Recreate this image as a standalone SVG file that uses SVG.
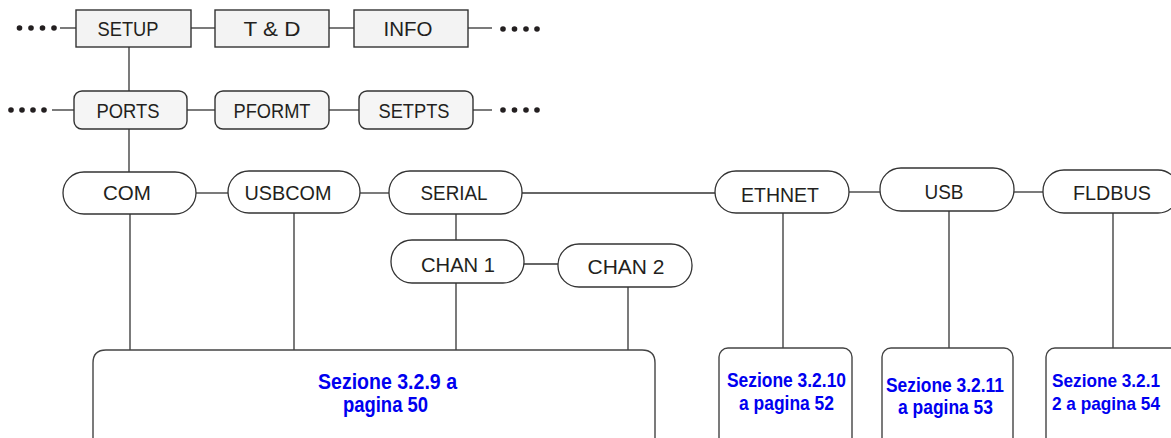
<svg xmlns="http://www.w3.org/2000/svg" width="1171" height="438" viewBox="0 0 1171 438">
<defs>
<style>
.bg{fill:#ffffff}
.sq{fill:#f3f3f3;stroke:#333333;stroke-width:1.4}
.rr{fill:#f5f5f5;stroke:#333333;stroke-width:1.4}
.pill{fill:#ffffff;stroke:#333333;stroke-width:1.3}
.ref{fill:#ffffff;stroke:#444444;stroke-width:1.4}
.ln{stroke:#333333;stroke-width:1.3;fill:none}
.dot{fill:#231f20}
.lbl{font-family:"Liberation Sans",Arial,sans-serif;font-size:21px;fill:#231f20;text-anchor:middle}
.blue{font-family:"Liberation Sans",Arial,sans-serif;font-weight:bold;fill:#0000f0;text-anchor:middle}
</style>
</defs>
<rect class="bg" x="0" y="0" width="1171" height="438"/>

<g id="connectors">
  <line class="ln" x1="60" y1="28" x2="76" y2="28"/>
  <line class="ln" x1="191" y1="28" x2="215" y2="28"/>
  <line class="ln" x1="329" y1="28" x2="354" y2="28"/>
  <line class="ln" x1="468" y1="28" x2="492" y2="28"/>
  <line class="ln" x1="129" y1="47" x2="129" y2="91"/>
  <line class="ln" x1="52" y1="110" x2="74" y2="110"/>
  <line class="ln" x1="187" y1="110" x2="215" y2="110"/>
  <line class="ln" x1="329" y1="110" x2="359" y2="110"/>
  <line class="ln" x1="473" y1="110" x2="492" y2="110"/>
  <line class="ln" x1="129" y1="129" x2="129" y2="172"/>
  <line class="ln" x1="196" y1="193" x2="228" y2="193"/>
  <line class="ln" x1="360" y1="193" x2="389" y2="193"/>
  <line class="ln" x1="521" y1="193" x2="715" y2="193"/>
  <line class="ln" x1="849" y1="192" x2="880" y2="192"/>
  <line class="ln" x1="1014" y1="192" x2="1043" y2="192"/>
  <line class="ln" x1="456" y1="214" x2="456" y2="240"/>
  <line class="ln" x1="524" y1="264" x2="558" y2="264"/>
  <line class="ln" x1="130" y1="214" x2="130" y2="350"/>
  <line class="ln" x1="294" y1="213" x2="294" y2="350"/>
  <line class="ln" x1="456" y1="283" x2="456" y2="350"/>
  <line class="ln" x1="628" y1="287" x2="628" y2="350"/>
  <line class="ln" x1="783" y1="213" x2="783" y2="348"/>
  <line class="ln" x1="949" y1="211" x2="949" y2="348"/>
  <line class="ln" x1="1113" y1="213" x2="1113" y2="348"/>
  <circle class="dot" cx="19.5" cy="28" r="2.8"/><circle class="dot" cx="31" cy="28" r="2.8"/><circle class="dot" cx="42.5" cy="28" r="2.8"/><circle class="dot" cx="54" cy="28" r="2.8"/>
  <circle class="dot" cx="503" cy="29" r="2.8"/><circle class="dot" cx="514.5" cy="29" r="2.8"/><circle class="dot" cx="526" cy="29" r="2.8"/><circle class="dot" cx="537" cy="29" r="2.8"/>
  <circle class="dot" cx="11" cy="110" r="2.8"/><circle class="dot" cx="22" cy="110" r="2.8"/><circle class="dot" cx="33" cy="110" r="2.8"/><circle class="dot" cx="44" cy="110" r="2.8"/>
  <circle class="dot" cx="503" cy="110" r="2.8"/><circle class="dot" cx="514.5" cy="110" r="2.8"/><circle class="dot" cx="526" cy="110" r="2.8"/><circle class="dot" cx="537" cy="110" r="2.8"/>
</g>

<g id="n-setup"><rect class="sq" x="76" y="10" width="115" height="37"/><text class="lbl" x="128" y="36" textLength="61" lengthAdjust="spacingAndGlyphs">SETUP</text></g>
<g id="n-td"><rect class="sq" x="215" y="10" width="114" height="37"/><text class="lbl" x="272" y="36" textLength="57" lengthAdjust="spacingAndGlyphs">T &amp; D</text></g>
<g id="n-info"><rect class="sq" x="354" y="10" width="114" height="37"/><text class="lbl" x="408" y="36" textLength="49" lengthAdjust="spacingAndGlyphs">INFO</text></g>

<g id="n-ports"><rect class="rr" x="74" y="91" width="113" height="38" rx="8"/><text class="lbl" x="128" y="118" textLength="63" lengthAdjust="spacingAndGlyphs">PORTS</text></g>
<g id="n-pformt"><rect class="rr" x="215" y="91" width="114" height="38" rx="8"/><text class="lbl" x="272" y="118" textLength="77" lengthAdjust="spacingAndGlyphs">PFORMT</text></g>
<g id="n-setpts"><rect class="rr" x="359" y="91" width="114" height="38" rx="8"/><text class="lbl" x="414" y="118" textLength="71" lengthAdjust="spacingAndGlyphs">SETPTS</text></g>

<g id="n-com"><rect class="pill" x="63" y="172" width="133" height="42" rx="21" ry="21"/><text class="lbl" x="127" y="200" textLength="48" lengthAdjust="spacingAndGlyphs">COM</text></g>
<g id="n-usbcom"><rect class="pill" x="228" y="171" width="132" height="42" rx="21" ry="21"/><text class="lbl" x="288" y="199.5" textLength="87" lengthAdjust="spacingAndGlyphs">USBCOM</text></g>
<g id="n-serial"><rect class="pill" x="389" y="171" width="133" height="43" rx="21" ry="21"/><text class="lbl" x="454" y="199.5" textLength="67" lengthAdjust="spacingAndGlyphs">SERIAL</text></g>
<g id="n-ethnet"><rect class="pill" x="715" y="171" width="134" height="42" rx="21" ry="21"/><text class="lbl" x="780" y="201.5" textLength="78" lengthAdjust="spacingAndGlyphs">ETHNET</text></g>
<g id="n-usb"><rect class="pill" x="880" y="168" width="134" height="43" rx="21" ry="21"/><text class="lbl" x="944" y="198.5" textLength="39" lengthAdjust="spacingAndGlyphs">USB</text></g>
<g id="n-fldbus"><rect class="pill" x="1043" y="170" width="136" height="43" rx="21" ry="21"/><text class="lbl" x="1112" y="199.5" textLength="78" lengthAdjust="spacingAndGlyphs">FLDBUS</text></g>
<g id="n-chan1"><rect class="pill" x="391" y="240" width="133" height="43" rx="21" ry="21"/><text class="lbl" x="458" y="271.5" textLength="74" lengthAdjust="spacingAndGlyphs">CHAN 1</text></g>
<g id="n-chan2"><rect class="pill" x="558" y="244" width="134" height="43" rx="21" ry="21"/><text class="lbl" x="626" y="273.5" textLength="77" lengthAdjust="spacingAndGlyphs">CHAN 2</text></g>

<g id="r-329"><path class="ref" d="M93,448 V363 Q93,350 106,350 H642 Q655,350 655,363 V448"/>
<text class="blue" font-size="21.5" x="387.5" y="389" textLength="139" lengthAdjust="spacingAndGlyphs">Sezione 3.2.9 a</text>
<text class="blue" font-size="21.5" x="385.5" y="412" textLength="85" lengthAdjust="spacingAndGlyphs">pagina 50</text></g>
<g id="r-3210"><rect class="ref" x="719" y="348" width="133" height="100" rx="9"/>
<text class="blue" font-size="20" x="786.5" y="387" textLength="119" lengthAdjust="spacingAndGlyphs">Sezione 3.2.10</text>
<text class="blue" font-size="20" x="786.5" y="410" textLength="95" lengthAdjust="spacingAndGlyphs">a pagina 52</text></g>
<g id="r-3211"><rect class="ref" x="882" y="348" width="131" height="100" rx="9"/>
<text class="blue" font-size="20" x="945" y="392" textLength="118" lengthAdjust="spacingAndGlyphs">Sezione 3.2.11</text>
<text class="blue" font-size="20" x="945.5" y="414" textLength="95" lengthAdjust="spacingAndGlyphs">a pagina 53</text></g>
<g id="r-3212"><rect class="ref" x="1046" y="348" width="140" height="100" rx="9"/>
<text class="blue" font-size="19" x="1106" y="387" textLength="108" lengthAdjust="spacingAndGlyphs">Sezione 3.2.1</text>
<text class="blue" font-size="19" x="1106" y="410" textLength="108" lengthAdjust="spacingAndGlyphs">2 a pagina 54</text></g>
</svg>
